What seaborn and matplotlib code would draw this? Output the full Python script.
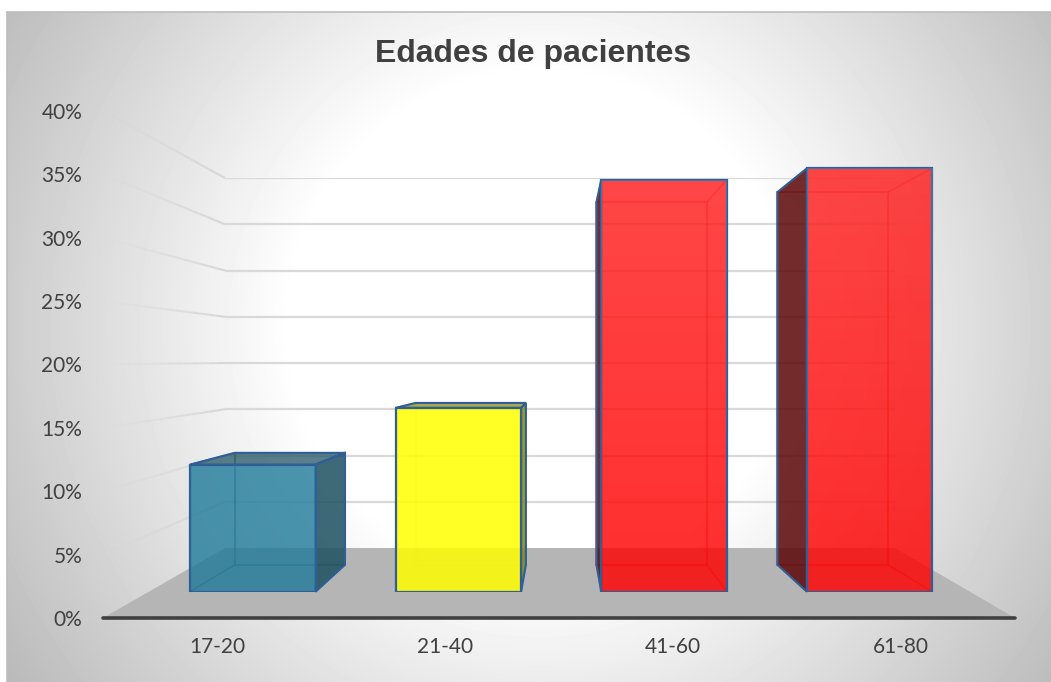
import numpy as np
import pandas as pd
import matplotlib
matplotlib.use("Agg")
import matplotlib.pyplot as plt
from matplotlib.patches import Polygon
from matplotlib.collections import LineCollection
from matplotlib.colors import to_rgba
from matplotlib.transforms import IdentityTransform
import seaborn as sns

# ---- data ----
age_groups = ["17-20", "21-40", "41-60", "61-80"]
patient_share = [11.2, 16.2, 36.3, 37.3]
bar_colors = ["#1f7a9a", "#ffff00", "#ff0000", "#ff0000"]
side_colors = ["#1c4f60", "#8a8a08", "#5c0606", "#5c0606"]
y_ticks = [0, 5, 10, 15, 20, 25, 30, 35, 40]
y_tick_labels = ["0%", "5%", "10%", "15%", "20%", "25%", "30%", "35%", "40%"]
title_text = "Edades de pacientes"

W, H = 1051, 682
sns.set_theme(style="white")
plt.rcParams["font.family"] = ["Lato", "DejaVu Sans"]
fig = plt.figure(figsize=(W / 100, H / 100), dpi=100, facecolor="white")


def axes_px(x0, y_top, x1, y_bottom, **kw):
    """Axes placed by image-pixel box."""
    return fig.add_axes([x0 / W, 1 - y_bottom / H, (x1 - x0) / W, (y_bottom - y_top) / H], **kw)


# ---- background canvas (image-pixel coordinates) ----
canvas = axes_px(0, 0, W, H, zorder=0)
xx, yy = np.meshgrid(np.arange(7, W), np.arange(12, H))
r = np.hypot(xx - 540, yy - 325)
shade = 1 - 0.00070 * np.clip(r - 250, 0, None)
canvas.imshow(shade, extent=(7, W, H, 12), cmap="gray", vmin=0, vmax=1,
              aspect="auto", interpolation="bilinear")
canvas.set_xlim(0, W)
canvas.set_ylim(H, 0)
canvas.axis("off")
canvas.plot([7, 7], [H, 12], color="#bdbdbd", lw=1.2)
canvas.plot([7, W], [12, 12], color="#bdbdbd", lw=1.2)

# ---- axes: outer plane, back wall, bar plane ----
outer = axes_px(103, 111, 1015, 618, zorder=4)
wall = axes_px(225, 178, 895, 548, zorder=1)
bars_ax = axes_px(150, 137.7, 972.4, 591.7, zorder=3)
for a in (outer, wall, bars_ax):
    a.patch.set_alpha(0)
    a.set_ylim(0, 40)

# floor
canvas.add_patch(Polygon([(103, 618), (1015, 618), (895, 548), (225, 548)],
                         closed=True, facecolor="#b5b5b5", edgecolor="none", zorder=2))

# back wall grid
wall.set_xlim(0, 1)
wall.set_yticks(y_ticks[1:])
wall.set_xticks([])
wall.set_yticklabels([])
wall.grid(axis="y", color="#d9d9d9", lw=1.6)
wall.tick_params(length=0)
sns.despine(ax=wall, left=True, bottom=True)

# left wall lines, fading toward the viewer
for v in y_ticks[1:]:
    y_out = 618 - (618 - 111) * v / 40
    y_back = 548 - (548 - 178) * v / 40
    t = np.linspace(0, 1, 16)
    xs = 225 + (103 - 225) * t
    ys = y_back + (y_out - y_back) * t
    segs = [[(xs[i], ys[i]), (xs[i + 1], ys[i + 1])] for i in range(15)]
    cols = [to_rgba("#d4d4d4", a) for a in np.linspace(0.9, 0.0, 15)]
    canvas.add_collection(LineCollection(segs, colors=cols, linewidths=1.5, zorder=1.5))

# ---- bars ----
df = pd.DataFrame({"age": age_groups, "share": patient_share})
sns.barplot(data=df, x="age", y="share", hue="age", palette=bar_colors, saturation=1,
            width=0.61, legend=False, ax=bars_ax)
bars_ax.set_xlim(-0.5, 3.5)
bars_ax.set_ylim(0, 40)
bars_ax.axis("off")

EDGE = "#2f5f96"
S, VX, VY = 0.88, 561.0, H - 367.0  # perspective of the depth of the bars (display coords)
FRONT_ALPHA = [0.80, 0.85, 0.82, 0.82]
LINE_ALPHA = [0.45, 0.16, 0.28, 0.28]


def back(p):
    return (VX + S * (p[0] - VX), VY + S * (p[1] - VY))


fig.canvas.draw()
for i, patch in enumerate(list(bars_ax.patches)):
    ext = patch.get_window_extent()
    fl, fr, ft, fb = ext.x0, ext.x1, ext.y1, ext.y0
    FLB, FRB, FRT, FLT = (fl, fb), (fr, fb), (fr, ft), (fl, ft)
    BLB, BRB, BRT, BLT = back(FLB), back(FRB), back(FRT), back(FLT)
    solid = dict(transform=IdentityTransform(), clip_on=False)
    # inner back edges, seen through the translucent front face
    line_col = to_rgba(side_colors[i], LINE_ALPHA[i])
    if bar_colors[i] == "#ff0000":
        line_col = to_rgba("#e00808", 0.35)
    bars_ax.add_patch(Polygon([BLB, BRB, BRT, BLT], closed=True, facecolor="none",
                              edgecolor=line_col, lw=1.5, zorder=2.5, **solid))
    for a, b in ((FLB, BLB), (FRB, BRB), (FRT, BRT), (FLT, BLT)):
        bars_ax.add_patch(Polygon([a, b], closed=False, fill=False,
                                  edgecolor=line_col, lw=1.2, zorder=2.5, **solid))
    # visible outer faces
    side_rgba = to_rgba(side_colors[i], 0.85)
    if BRB[0] > fr:
        bars_ax.add_patch(Polygon([FRB, BRB, BRT, FRT], closed=True, facecolor=side_rgba,
                                  edgecolor=EDGE, lw=1.5, zorder=2.6, **solid))
    if BLB[0] < fl:
        bars_ax.add_patch(Polygon([FLB, BLB, BLT, FLT], closed=True, facecolor=side_rgba,
                                  edgecolor=EDGE, lw=1.5, zorder=2.6, **solid))
    if BLT[1] > ft:
        bars_ax.add_patch(Polygon([FLT, FRT, BRT, BLT], closed=True,
                                  facecolor=to_rgba(side_colors[i], 0.72),
                                  edgecolor=EDGE, lw=1.5, zorder=2.6, **solid))
    patch.set_facecolor(to_rgba(bar_colors[i], FRONT_ALPHA[i]))
    patch.set_edgecolor(EDGE)
    patch.set_linewidth(1.6)
    patch.set_zorder(2.7)
    # soft sheen on the upper part of the red bars
    if bar_colors[i] == "#ff0000":
        px, pw, ph = patch.get_x(), patch.get_width(), patch.get_height()
        sheen = np.ones((64, 2, 4))
        sheen[..., 3] = np.linspace(0.12, 0.0, 64)[:, None]
        im = bars_ax.imshow(sheen, extent=(px, px + pw, 0, ph), origin="upper",
                            aspect="auto", zorder=2.8)
        im.set_clip_path(patch)
bars_ax.set_xlim(-0.5, 3.5)
bars_ax.set_ylim(0, 40)

# ---- outer axis: labels and base line ----
outer.set_xlim(-0.5, 3.5)
outer.set_xticks(range(4))
outer.set_xticklabels(age_groups)
outer.set_yticks(y_ticks)
outer.set_yticklabels(y_tick_labels)
outer.tick_params(axis="both", length=0, labelsize=15, labelcolor="#404040")
outer.tick_params(axis="y", pad=15)
outer.tick_params(axis="x", pad=14)
sns.despine(ax=outer, left=True)
outer.spines["bottom"].set_color("#404040")
outer.spines["bottom"].set_linewidth(2.6)
outer.spines["bottom"].set_capstyle("round")

fig.text(533 / W, 1 - 54 / H, title_text, ha="center", va="center", fontsize=23,
         fontweight="bold", color="#404040", family="Liberation Sans")

fig.savefig("out.png", dpi=100)
